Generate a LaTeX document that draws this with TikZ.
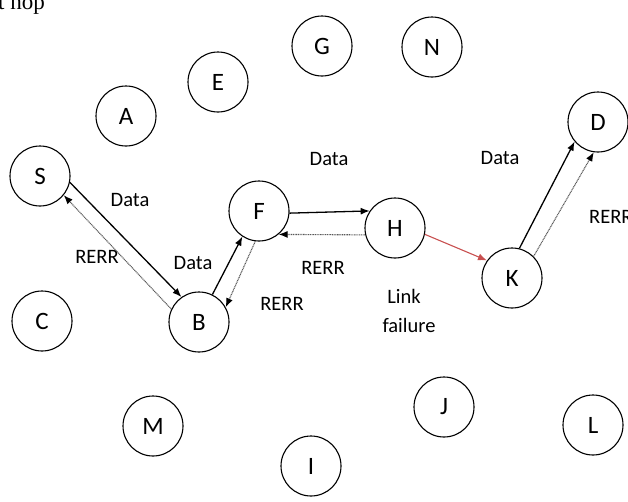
\documentclass[tikz,border=0pt]{standalone}
\usepackage{fontspec}
\setmainfont{Carlito}
\newfontfamily\serifface{Liberation Serif}
\usetikzlibrary{arrows.meta}
\definecolor{failred}{RGB}{200,80,80}
\tikzset{
  host/.style={circle, draw, line width=1.1pt, minimum size=60pt, inner sep=0pt,
    font=\fontsize{25}{28}\selectfont},
  lbl/.style={inner sep=0pt, font=\fontsize{20.5}{23}\selectfont},
  datalink/.style={line width=1.3pt, -{Latex[length=9pt,width=7pt]}},
  rerrlink/.style={line width=1.1pt, black!65, dash pattern=on 1pt off 0.7pt,
    -{Latex[length=9pt,width=7pt,color=black]}},
  faillink/.style={line width=1.1pt, failred, -{Latex[length=9pt,width=7pt]}}
}
\begin{document}
\begin{tikzpicture}[x=1pt, y=-1pt]
\useasboundingbox (0,0) rectangle (628,501);
\clip (0,0) rectangle (628,501);
% caption fragment above the network
\node[anchor=base west, inner sep=0pt, font=\serifface\fontsize{23}{26}\selectfont] (cap) at (-2,9) {t hop};
% mobile hosts
\node[host] (S) at (40,176) {S};
\node[host] (A) at (126,116) {A};
\node[host] (E) at (218,82) {E};
\node[host] (G) at (322,46) {G};
\node[host] (N) at (432,47) {N};
\node[host] (D) at (598,122) {D};
\node[host] (F) at (259,211) {F};
\node[host] (H) at (395,228) {H};
\node[host] (K) at (512,278) {K};
\node[host] (B) at (199,322) {B};
\node[host] (C) at (42,321) {C};
\node[host] (M) at (153,426) {M};
\node[host] (J) at (444,407) {J};
\node[host] (L) at (593,425) {L};
\node[host] (I) at (311,466) {I};
% data path
\draw[datalink] (S.-12) -- (B.125);
\draw[datalink] (B.64) -- (F.-123);
\draw[datalink] (F.-4) -- (H.146);
\draw[datalink] (K.76) -- (D.-140);
% route error messages
\draw[rerrlink] (B.155) -- (S.-39);
\draw[rerrlink] (F.-97) -- (B.29);
\draw[rerrlink] (H.-167) -- (F.-50);
\draw[rerrlink] (K.45) -- (D.-98);
% broken link
\draw[faillink] (H.-12) -- (K.145);
% labels
\node[lbl] (l1) at (130,200) {Data};
\node[lbl] (l2) at (97,257) {RERR};
\node[lbl] (l3) at (193,263) {Data};
\node[lbl] (l4) at (329,159) {Data};
\node[lbl] (l5) at (323,268) {RERR};
\node[lbl] (l6) at (282,304) {RERR};
\node[lbl] (l7) at (404,296) {Link};
\node[lbl] (l8) at (409,325) {failure};
\node[lbl] (l9) at (500,158) {Data};
\node[lbl, anchor=west] (l10) at (589,217) {RERR};
\end{tikzpicture}
\end{document}
